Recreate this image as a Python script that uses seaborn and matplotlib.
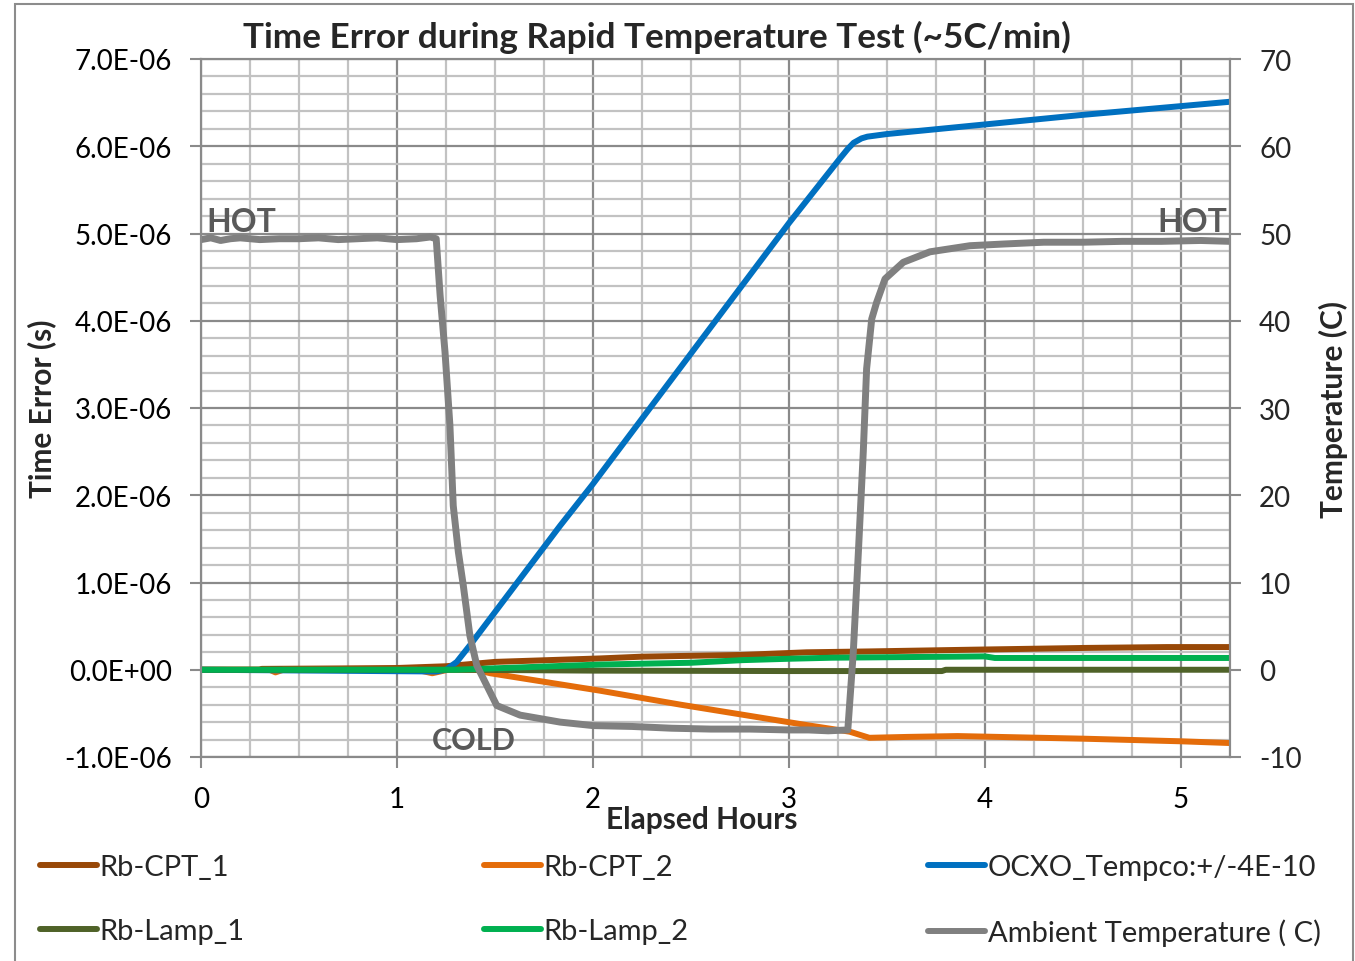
import matplotlib
matplotlib.use("Agg")
import matplotlib.pyplot as plt
import seaborn as sns
import numpy as np
from matplotlib.ticker import MultipleLocator, FuncFormatter
from matplotlib.lines import Line2D
from matplotlib.patches import Rectangle

sns.set_theme(style="white")
plt.rcParams['font.family'] = ['Lato', 'DejaVu Sans']
plt.rcParams['axes.unicode_minus'] = False

# ---- data (time error in microseconds, temperature in C) ----
cpt1_hours = [0, 0.30, 0.31, 0.70, 1.00, 1.25, 1.50, 2.04, 2.25, 2.76, 3.09, 3.41, 3.94, 4.51, 4.93, 5.25]
cpt1_us = [0, 0, 0.01, 0.015, 0.02, 0.04, 0.09, 0.13, 0.15, 0.17, 0.20, 0.21, 0.23, 0.25, 0.26, 0.26]

cpt2_hours = [0, 0.35, 0.38, 0.42, 1.10, 1.18, 1.22, 1.26, 1.40, 1.476, 2.036, 2.446, 3.106, 3.31, 3.41,
              3.60, 3.86, 4.50, 5.00, 5.25]
cpt2_us = [0, 0, -0.03, 0, 0, -0.04, -0.02, 0, 0, -0.04, -0.24, -0.40, -0.64, -0.71, -0.78,
           -0.77, -0.76, -0.79, -0.82, -0.84]

ocxo_hours = [0, 1.20, 1.25, 1.305, 1.372, 1.832, 2.0, 3.0, 3.26, 3.30, 3.33, 3.37, 3.40, 3.50,
              4.0, 4.5, 5.0, 5.25]
ocxo_us = [0, -0.02, 0.0, 0.09, 0.28, 1.65, 2.13, 5.12, 5.86, 5.97, 6.04, 6.09, 6.11, 6.14,
           6.25, 6.36, 6.46, 6.51]

lamp1_hours = [0, 1.3, 2.0, 3.0, 3.78, 3.80, 5.25]
lamp1_us = [0, 0, -0.01, -0.015, -0.015, 0, 0]

lamp2_hours = [0, 1.3, 1.42, 2.04, 2.5, 2.76, 3.0, 3.22, 4.0, 4.05, 5.25]
lamp2_us = [0, 0, 0.01, 0.06, 0.08, 0.11, 0.126, 0.138, 0.153, 0.135, 0.135]

amb_hours = [0.00, 0.05, 0.10, 0.15, 0.20, 0.30, 0.40, 0.50, 0.60, 0.70, 0.80, 0.90, 1.00, 1.10, 1.17,
             1.20, 1.22, 1.245, 1.27, 1.287, 1.313, 1.338, 1.372, 1.407, 1.458, 1.509, 1.628, 1.832,
             2.0, 2.2, 2.4, 2.6, 2.8, 3.0, 3.1, 3.2, 3.30, 3.328, 3.354, 3.379, 3.396, 3.422, 3.447,
             3.49, 3.583, 3.719, 3.923, 4.1, 4.3, 4.5, 4.7, 4.9, 5.1, 5.25]
amb_temp = [49.3, 49.5, 49.2, 49.4, 49.5, 49.3, 49.4, 49.4, 49.5, 49.3, 49.4, 49.5, 49.3, 49.4, 49.6,
            49.4, 42.9, 36.4, 28.0, 18.8, 13.5, 9.7, 3.9, 0.5, -1.8, -4.1, -5.2, -6.0,
            -6.4, -6.5, -6.7, -6.8, -6.8, -6.9, -6.9, -7.0, -6.9, 2.0, 13.5, 25.0, 34.5, 40.2, 42.1,
            44.8, 46.7, 47.9, 48.6, 48.8, 49.0, 49.0, 49.1, 49.1, 49.2, 49.1]

series = [
    ("Rb-CPT_1", cpt1_hours, cpt1_us, "#984807"),
    ("Rb-CPT_2", cpt2_hours, cpt2_us, "#E46C0A"),
    ("OCXO_Tempco:+/-4E-10", ocxo_hours, ocxo_us, "#0070C0"),
    ("Rb-Lamp_1", lamp1_hours, lamp1_us, "#4F6228"),
    ("Rb-Lamp_2", lamp2_hours, lamp2_us, "#00B050"),
]
amb_label = "Ambient Temperature ( C)"
amb_color = "#808080"

W, H = 1355, 962
fig = plt.figure(figsize=(W / 100, H / 100), dpi=100)
fig.patch.set_facecolor("white")
ax = fig.add_axes([201 / W, 1 - 758 / H, (1230 - 201) / W, (758 - 60) / H])

major_c = "#8a8a8a"
minor_c = "#c2c2c2"
lw = 4.3

handles = {}
for name, hrs, vals, col in series:
    sns.lineplot(x=np.array(hrs), y=np.array(vals) * 1e-6, ax=ax, color=col, linewidth=lw,
                 estimator=None, sort=False, legend=False)
    handles[name] = Line2D([], [], color=col, linewidth=lw, solid_capstyle="round")

ax.set_xlim(0, 5.25)
ax.set_ylim(-1e-6, 7e-6)
ax.xaxis.set_major_locator(MultipleLocator(1))
ax.xaxis.set_minor_locator(MultipleLocator(0.25))
ax.yaxis.set_major_locator(MultipleLocator(1e-6))
ax.yaxis.set_minor_locator(MultipleLocator(0.2e-6))
ax.yaxis.set_major_formatter(FuncFormatter(lambda v, p: f"{v:.1E}" if abs(v) > 1e-12 else "0.0E+00"))
ax.grid(which="major", color=major_c, linewidth=1.6)
ax.grid(which="minor", color=minor_c, linewidth=1.6)
ax.set_axisbelow(True)
ax.tick_params(axis="both", which="major", direction="out", length=8, width=1.5, color=major_c,
               labelsize=20, labelcolor="#000000", pad=13)
ax.tick_params(axis="x", which="major", bottom=True)
ax.tick_params(axis="y", which="major", left=True)
ax.tick_params(which="minor", length=0)
for s in ax.spines.values():
    s.set_color(major_c)
    s.set_linewidth(1.5)

ax2 = ax.twinx()
sns.lineplot(x=np.array(amb_hours), y=np.array(amb_temp), ax=ax2, color=amb_color, linewidth=5,
             estimator=None, sort=False, legend=False)
handles[amb_label] = Line2D([], [], color=amb_color, linewidth=lw, solid_capstyle="round")
ax2.set_ylim(-10, 70)
ax2.yaxis.set_major_locator(MultipleLocator(10))
ax2.tick_params(axis="y", direction="out", length=8, width=1.5, color=major_c,
                labelsize=20, pad=13, right=True)
ax2.grid(False)
for s in ax2.spines.values():
    s.set_color(major_c)
    s.set_linewidth(1.5)

# axis labels and title
ax.set_ylabel("Time Error (s)", fontsize=21.5, fontweight="bold")
ax.yaxis.set_label_coords(-0.1405, 0.5)
ax2.set_ylabel("Temperature (C)", fontsize=21.5, fontweight="bold")
ax2.yaxis.set_label_coords(1.086, 0.5)
ax.set_xlabel("Elapsed Hours", fontsize=21.5, fontweight="bold")
ax.xaxis.set_label_coords(0.487, -0.069)
fig.text(657 / W, 1 - 37 / H, "Time Error during Rapid Temperature Test (~5C/min)",
         ha="center", va="center", fontsize=25.3, fontweight="bold")

# HOT / COLD annotations
txt_c = "#595959"
ax.text(0.026, 5.03e-6, "HOT", color=txt_c, fontsize=23, fontweight="bold", ha="left", va="baseline")
ax.text(5.235, 5.03e-6, "HOT", color=txt_c, fontsize=23, fontweight="bold", ha="right", va="baseline")
ax.text(1.18, -0.905e-6, "COLD", color=txt_c, fontsize=22, fontweight="bold", ha="left", va="baseline")

# legend, filled column by column
order = ["Rb-CPT_1", "Rb-Lamp_1", "Rb-CPT_2", "Rb-Lamp_2", "OCXO_Tempco:+/-4E-10", amb_label]
fig.legend([handles[k] for k in order], order, ncol=3, loc="upper left",
           bbox_to_anchor=(40 / W, 1 - 855 / H), frameon=False, fontsize=21,
           handlelength=1.95, handletextpad=0.1, columnspacing=8.2, labelspacing=1.32,
           borderpad=0, borderaxespad=0)

# outer chart frame
fig.add_artist(Rectangle((15 / W, -0.01), (1353 - 15) / W, 1 - 5 / H + 0.01,
                         transform=fig.transFigure, fill=False, edgecolor="#8c8c8c", linewidth=1.5))

fig.savefig("out.png", dpi=100)
